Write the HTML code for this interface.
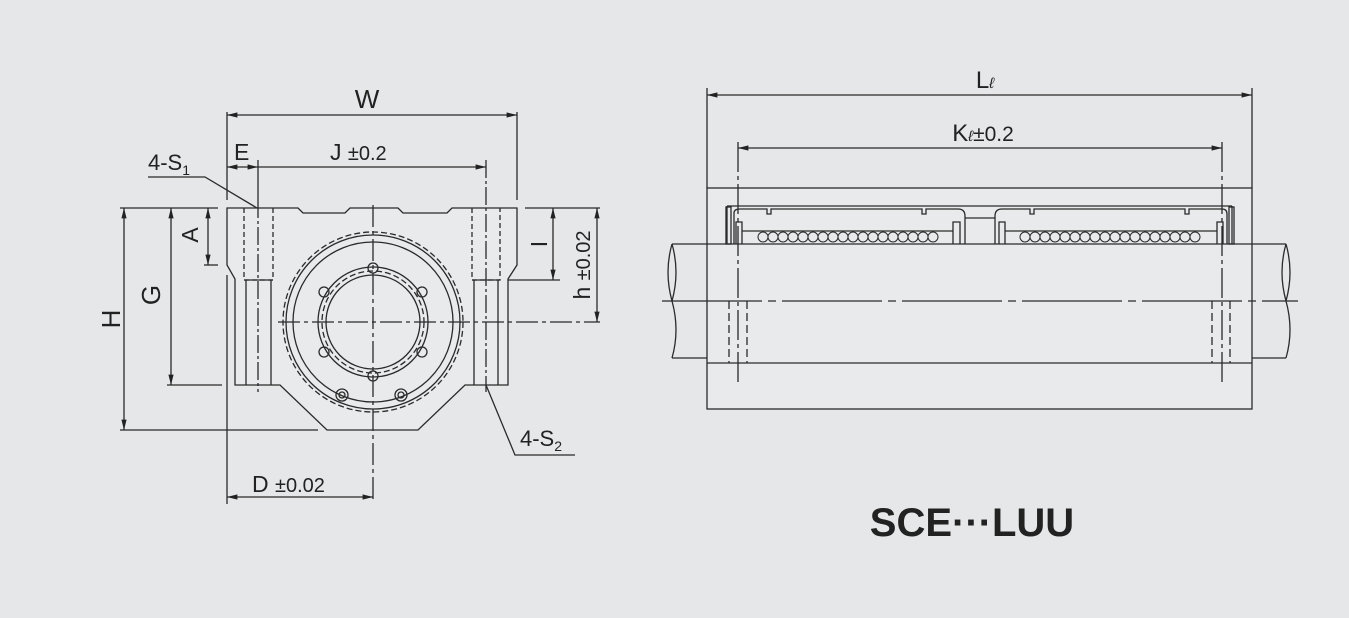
<!DOCTYPE html>
<html><head><meta charset="utf-8"><style>
html,body{margin:0;padding:0;background:#e6e7e8;}
svg{display:block;}
text{font-family:"Liberation Sans",sans-serif;fill:#222;}
</style></head><body>
<svg width="1349" height="618" viewBox="0 0 1349 618" xmlns="http://www.w3.org/2000/svg">
<defs>
<marker id="a" viewBox="0 0 10 10" refX="10" refY="5" markerWidth="8" markerHeight="8" orient="auto-start-reverse"><path d="M0,2.5 L10,5 L0,7.5z" fill="#222"/></marker>
</defs>
<rect width="1349" height="618" fill="#e6e7e8"/>
<g stroke="#2a2a2a" stroke-width="1.3" fill="none">
<path d="M227,208 L298,208 L303,213 L345,213 L350,208 L398,208 L403,213 L447,213 L452,208 L517,208 L517,265 L508,279 L508,385 L465,385 L418,430 L327,430 L280,385 L235,385 L235,279 L227,265 Z" fill="#e9eaeb"/>
<path d="M244,208 L244,280 L273,280 L273,208" stroke-dasharray="5,3"/>
<line x1="244" y1="280" x2="273" y2="280"/>
<line x1="246" y1="280" x2="246" y2="385"/>
<line x1="271" y1="280" x2="271" y2="385"/>
<path d="M472,208 L472,280 L500,280 L500,208" stroke-dasharray="5,3"/>
<line x1="472" y1="280" x2="500" y2="280"/>
<line x1="474" y1="280" x2="474" y2="385"/>
<line x1="498" y1="280" x2="498" y2="385"/>
<line x1="258" y1="200" x2="258" y2="392" stroke-dasharray="18,3,3,3"/>
<line x1="486" y1="160" x2="486" y2="392" stroke-dasharray="18,3,3,3"/>
<circle cx="373" cy="322" r="90" stroke-dasharray="6,3"/>
<circle cx="373" cy="322" r="87"/>
<circle cx="373" cy="322" r="80"/>
<circle cx="373" cy="322" r="55"/>
<circle cx="373" cy="322" r="51" stroke-dasharray="6,3"/>
<circle cx="373" cy="322" r="47"/>
<circle cx="373" cy="268" r="5"/><circle cx="373" cy="376" r="5"/>
<circle cx="324" cy="292" r="5"/><circle cx="422" cy="292" r="5"/>
<circle cx="324" cy="352" r="5"/><circle cx="422" cy="352" r="5"/>
<circle cx="342" cy="395" r="6"/><circle cx="342" cy="395" r="3"/>
<circle cx="401" cy="395" r="6"/><circle cx="401" cy="395" r="3"/>
<line x1="278" y1="322" x2="600" y2="322" stroke-dasharray="22,4,4,4"/>
<line x1="373" y1="205" x2="373" y2="502" stroke-dasharray="22,4,4,4"/>
<line x1="227" y1="112" x2="227" y2="200"/>
<line x1="227" y1="275" x2="227" y2="504"/>
<line x1="517" y1="112" x2="517" y2="200"/>
<line x1="258" y1="160" x2="258" y2="200"/>
<line x1="120" y1="208" x2="218" y2="208"/>
<line x1="120" y1="430" x2="318" y2="430"/>
<line x1="167" y1="385" x2="222" y2="385"/>
<line x1="204" y1="265" x2="218" y2="265"/>
<line x1="525" y1="208" x2="600" y2="208"/>
<line x1="508" y1="280" x2="560" y2="280"/>
<line x1="227" y1="115" x2="517" y2="115" marker-start="url(#a)" marker-end="url(#a)"/>
<line x1="227" y1="167" x2="258" y2="167" marker-start="url(#a)" marker-end="url(#a)"/>
<line x1="258" y1="167" x2="486" y2="167" marker-end="url(#a)"/>
<line x1="124" y1="208" x2="124" y2="430" marker-start="url(#a)" marker-end="url(#a)"/>
<line x1="171" y1="208" x2="171" y2="385" marker-start="url(#a)" marker-end="url(#a)"/>
<line x1="208" y1="208" x2="208" y2="265" marker-start="url(#a)" marker-end="url(#a)"/>
<line x1="553" y1="208" x2="553" y2="280" marker-start="url(#a)" marker-end="url(#a)"/>
<line x1="597" y1="208" x2="597" y2="322" marker-start="url(#a)" marker-end="url(#a)"/>
<line x1="227" y1="497" x2="373" y2="497" marker-start="url(#a)" marker-end="url(#a)"/>
<polyline points="148,177 205,177 257,208"/>
<polyline points="486,385 515,455 575,455"/>

<rect x="707" y="188" width="545" height="221" fill="#e9eaeb"/>
<line x1="707" y1="363" x2="1252" y2="363"/>
<line x1="727" y1="206" x2="1232" y2="206"/>
<line x1="727" y1="206" x2="727" y2="244"/>
<line x1="1232" y1="206" x2="1232" y2="244"/>
<path d="M734,244 L734,213 Q734,209 740,209 L767,209 L767,214 L771,214 L771,209 L922,209 L922,214 L926,214 L926,209 L958,209 Q965,209 965,216 L965,244"/>
<path d="M995,244 L995,216 Q995,209 1002,209 L1030,209 L1030,214 L1034,214 L1034,209 L1185,209 L1185,214 L1189,214 L1189,209 L1222,209 Q1227,209 1227,214 L1227,244"/>
<line x1="965" y1="218" x2="995" y2="218"/>
<rect x="726" y="207" width="5" height="37"/>
<rect x="1229" y="207" width="5" height="37"/>
<path d="M736,244 L736,222 L742,222 L742,244"/>
<path d="M953,244 L953,222 L960,222 L960,244"/>
<path d="M999,244 L999,222 L1005,222 L1005,244"/>
<path d="M1217,244 L1217,222 L1223,222 L1223,244"/>
<line x1="742" y1="231" x2="953" y2="231"/>
<line x1="1005" y1="231" x2="1217" y2="231"/>
</g>
<g stroke="#2a2a2a" stroke-width="1" fill="none">
<g id="balls">
<circle cx="763" cy="237" r="5"/><circle cx="773" cy="237" r="5"/><circle cx="783" cy="237" r="5"/><circle cx="793" cy="237" r="5"/><circle cx="803" cy="237" r="5"/><circle cx="813" cy="237" r="5"/><circle cx="823" cy="237" r="5"/><circle cx="833" cy="237" r="5"/><circle cx="843" cy="237" r="5"/><circle cx="853" cy="237" r="5"/><circle cx="863" cy="237" r="5"/><circle cx="873" cy="237" r="5"/><circle cx="883" cy="237" r="5"/><circle cx="893" cy="237" r="5"/><circle cx="903" cy="237" r="5"/><circle cx="913" cy="237" r="5"/><circle cx="923" cy="237" r="5"/><circle cx="933" cy="237" r="5"/>
</g>
<use href="#balls" x="262"/>
</g>
<g stroke="#2a2a2a" stroke-width="1.3" fill="none">
<path d="M672,244 L1286,244 M672,358 L707,358 M1252,358 L1286,358" />
<path d="M672,244 Q664,272 672,301 Q680,330 672,358"/>
<path d="M672,244 Q680,272 672,301" />
<path d="M1286,244 Q1278,272 1286,301 Q1294,330 1286,358"/>
<path d="M1286,244 Q1294,272 1286,301" />
<line x1="662" y1="301" x2="1298" y2="301" stroke-dasharray="100,6,8,6"/>
<line x1="729" y1="301" x2="729" y2="363" stroke-dasharray="8,4"/>
<line x1="747" y1="301" x2="747" y2="363" stroke-dasharray="8,4"/>
<line x1="1212" y1="301" x2="1212" y2="363" stroke-dasharray="8,4"/>
<line x1="1230" y1="301" x2="1230" y2="363" stroke-dasharray="8,4"/>
<line x1="738" y1="142" x2="738" y2="382" stroke-dasharray="30,4,4,4"/>
<line x1="1222" y1="142" x2="1222" y2="382" stroke-dasharray="30,4,4,4"/>
<line x1="707" y1="88" x2="707" y2="188"/>
<line x1="1252" y1="88" x2="1252" y2="188"/>
<line x1="707" y1="95" x2="1252" y2="95" marker-start="url(#a)" marker-end="url(#a)"/>
<line x1="738" y1="148" x2="1222" y2="148" marker-start="url(#a)" marker-end="url(#a)"/>
</g>
<text x="367" y="108" font-size="26" text-anchor="middle">W</text>
<text x="234" y="160" font-size="23">E</text>
<text x="330" y="160" font-size="23">J <tspan font-size="20">±0.2</tspan></text>
<text x="148" y="170" font-size="22">4-S<tspan font-size="14" dy="5">1</tspan></text>
<text x="520" y="446" font-size="22">4-S<tspan font-size="14" dy="5">2</tspan></text>
<text x="252" y="492" font-size="23">D <tspan font-size="20">±0.02</tspan></text>
<text transform="translate(120,319) rotate(-90)" font-size="26" text-anchor="middle">H</text>
<text transform="translate(160,295) rotate(-90)" font-size="26" text-anchor="middle">G</text>
<text transform="translate(198,235) rotate(-90)" font-size="23" text-anchor="middle">A</text>
<text transform="translate(547,244) rotate(-90)" font-size="23" text-anchor="middle">I</text>
<text transform="translate(590,265) rotate(-90)" font-size="23" text-anchor="middle">h <tspan font-size="20">±0.02</tspan></text>
<text x="985" y="88" font-size="24" text-anchor="middle">L<tspan font-size="15" font-style="italic">ℓ</tspan></text>
<text x="983" y="141" font-size="24" text-anchor="middle">K<tspan font-size="15" font-style="italic">ℓ</tspan><tspan font-size="21">±0.2</tspan></text>
<text x="972" y="536" font-size="40" font-weight="bold" text-anchor="middle" fill="#222">SCE···LUU</text>
</svg>
</body></html>
